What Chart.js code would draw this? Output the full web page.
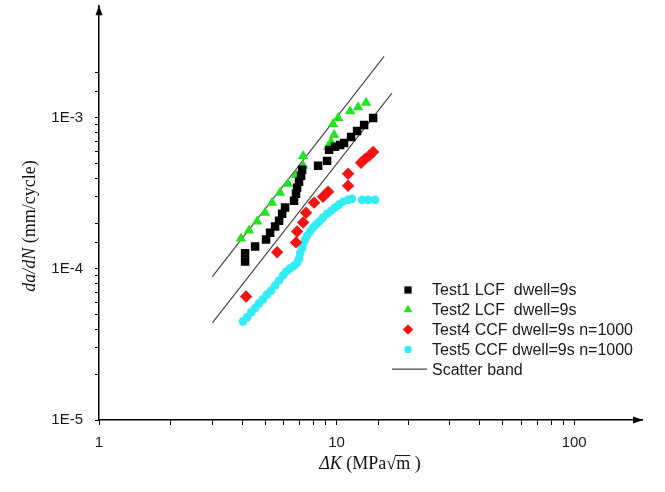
<!DOCTYPE html>
<html>
<head>
<meta charset="utf-8">
<script src="https://cdn.jsdelivr.net/npm/chart.js@4.4.0/dist/chart.umd.min.js"></script>
<style>
  html, body { margin: 0; padding: 0; background: #fff; }
  #wrap { width: 665px; height: 492px; }
</style>
</head>
<body>
<div id="wrap"><canvas id="crack-chart" width="665" height="492"></canvas></div>
<script>
// delta K (MPa sqrt m) and da/dN (mm/cycle)
const test1X = [4.12, 4.12, 4.54, 5.05, 5.25, 5.51, 5.73, 5.90, 6.07, 6.62, 6.75, 6.82, 6.95, 7.09, 7.16, 8.36, 9.12, 9.30, 9.85, 10.35, 10.75, 11.51, 12.20, 13.06, 14.25];
const test1Y = [1.12e-4, 1.27e-4, 1.41e-4, 1.57e-4, 1.74e-4, 1.91e-4, 2.09e-4, 2.32e-4, 2.55e-4, 2.83e-4, 3.15e-4, 3.45e-4, 3.78e-4, 4.14e-4, 4.54e-4, 4.82e-4, 5.20e-4, 6.15e-4, 6.44e-4, 6.63e-4, 6.84e-4, 7.49e-4, 8.21e-4, 8.99e-4, 1.0e-3];

const test2X = [3.96, 4.28, 4.63, 5.00, 5.35, 5.78, 6.25, 6.75, 7.23, 7.23, 9.21, 9.48, 9.76, 9.67, 10.15, 11.40, 12.32, 13.31];
const test2Y = [1.59e-4, 1.80e-4, 2.06e-4, 2.36e-4, 2.75e-4, 3.20e-4, 3.67e-4, 4.20e-4, 4.82e-4, 5.61e-4, 6.44e-4, 6.94e-4, 7.72e-4, 9.13e-4, 1.0e-3, 1.11e-3, 1.18e-3, 1.26e-3];

const test4X = [4.16, 5.62, 6.75, 6.82, 7.23, 7.44, 8.04, 8.77, 9.21, 11.18, 11.18, 12.68, 13.18, 13.70, 14.25];
const test4Y = [6.58e-5, 1.29e-4, 1.50e-4, 1.77e-4, 2.03e-4, 2.36e-4, 2.75e-4, 3.01e-4, 3.25e-4, 3.56e-4, 4.27e-4, 5.05e-4, 5.36e-4, 5.61e-4, 5.96e-4];

const test5X = [4.04, 4.20, 4.37, 4.54, 4.72, 4.90, 5.10, 5.30, 5.51, 5.73, 5.95, 6.13, 6.37, 6.62, 6.82, 6.95, 7.02, 7.16, 7.23, 7.37, 7.51, 7.73, 7.96, 8.20, 8.44, 8.77, 9.12, 9.48, 9.85, 10.24, 10.65, 11.18, 11.62, 12.81, 13.57, 14.53];
const test5Y = [4.50e-5, 4.79e-5, 5.16e-5, 5.49e-5, 5.92e-5, 6.29e-5, 6.79e-5, 7.21e-5, 7.78e-5, 8.39e-5, 9.06e-5, 9.63e-5, 1.01e-4, 1.05e-4, 1.10e-4, 1.17e-4, 1.27e-4, 1.37e-4, 1.47e-4, 1.57e-4, 1.66e-4, 1.77e-4, 1.88e-4, 1.97e-4, 2.06e-4, 2.19e-4, 2.32e-4, 2.43e-4, 2.55e-4, 2.67e-4, 2.79e-4, 2.87e-4, 2.92e-4, 2.87e-4, 2.87e-4, 2.87e-4];

// scatter band end points
const bandUpperX = [3.0, 15.85];
const bandUpperY = [8.9e-5, 2.56e-3];
const bandLowerX = [3.0, 17.1];
const bandLowerY = [4.4e-5, 1.46e-3];

const seriesLabels = ['Test1 LCF  dwell=9s', 'Test2 LCF  dwell=9s', 'Test4 CCF dwell=9s n=1000', 'Test5 CCF dwell=9s n=1000', 'Scatter band'];

const xMin = 1, xMax = 193, xLastTick = 100;
const yMin = 1e-5, yMax = 5.5e-3, yLastTick = 2e-3;

function toPoints(xs, ys) {
  return xs.map((x, i) => ({ x: x, y: ys[i] }));
}

function isDecade(v) {
  const l = Math.log10(v);
  return Math.abs(l - Math.round(l)) < 1e-6;
}

function markerSet(label, xs, ys, style, color, radius) {
  return {
    label: label,
    data: toPoints(xs, ys),
    pointStyle: style,
    pointRadius: radius,
    pointBackgroundColor: color,
    pointBorderColor: color,
    pointBorderWidth: 0,
    showLine: false,
  };
}

function bandSet(label, xs, ys) {
  return {
    label: label,
    data: toPoints(xs, ys),
    showLine: true,
    borderColor: '#4a4a4a',
    borderWidth: 1.2,
    pointRadius: 0,
    legendLine: true,
  };
}

// arrow heads at the ends of both axes
const axisArrows = {
  id: 'axisArrows',
  afterDraw(chart) {
    const { ctx, chartArea: a } = chart;
    ctx.save();
    ctx.fillStyle = '#000';
    ctx.beginPath();
    ctx.moveTo(a.left, a.top - 1);
    ctx.lineTo(a.left - 3.5, a.top + 9);
    ctx.lineTo(a.left + 3.5, a.top + 9);
    ctx.closePath();
    ctx.fill();
    ctx.beginPath();
    ctx.moveTo(a.right + 1, a.bottom);
    ctx.lineTo(a.right - 9, a.bottom - 3.5);
    ctx.lineTo(a.right - 9, a.bottom + 3.5);
    ctx.closePath();
    ctx.fill();
    ctx.restore();
  },
};

// titles with italic symbols
function drawParts(ctx, parts, size) {
  const fontOf = (p) => (p.italic ? 'italic ' : '') + size + 'px "Liberation Serif", "Times New Roman", serif';
  let total = 0;
  parts.forEach((p) => {
    ctx.font = fontOf(p);
    total += ctx.measureText(p.text).width;
  });
  let x = -total / 2;
  parts.forEach((p) => {
    ctx.font = fontOf(p);
    const w = ctx.measureText(p.text).width;
    ctx.fillText(p.text, x, 0);
    if (p.overline) {
      ctx.beginPath();
      ctx.moveTo(x - 1, -size * 0.47);
      ctx.lineTo(x + w, -size * 0.47);
      ctx.lineWidth = 1;
      ctx.strokeStyle = '#111';
      ctx.stroke();
    }
    x += w;
  });
}

const axisTitles = {
  id: 'axisTitles',
  afterDraw(chart, args, opts) {
    const ctx = chart.ctx;
    ctx.save();
    ctx.fillStyle = '#111';
    ctx.textAlign = 'left';
    ctx.textBaseline = 'middle';
    ctx.save();
    ctx.translate(opts.xCenter, opts.xMiddle);
    drawParts(ctx, [
      { text: 'ΔK', italic: true },
      { text: ' (MPa' },
      { text: '√' },
      { text: 'm', overline: true },
      { text: ' )' },
    ], opts.size);
    ctx.restore();
    ctx.save();
    ctx.translate(opts.yCenter, opts.yMiddle);
    ctx.rotate(-Math.PI / 2);
    drawParts(ctx, [
      { text: 'da/dN', italic: true },
      { text: ' (mm/cycle)' },
    ], opts.size);
    ctx.restore();
    ctx.restore();
  },
};

// legend placed inside the plot, like the figure
const insideLegend = {
  id: 'insideLegend',
  afterDraw(chart, args, opts) {
    const ctx = chart.ctx;
    ctx.save();
    ctx.font = opts.fontSize + 'px "Liberation Sans", Arial, sans-serif';
    ctx.textBaseline = 'middle';
    ctx.textAlign = 'left';
    let row = 0;
    chart.data.datasets.forEach((ds) => {
      if (!ds.label) {
        return;
      }
      const y = opts.top + row * opts.rowGap;
      if (ds.legendLine) {
        ctx.beginPath();
        ctx.moveTo(opts.lineStart, y);
        ctx.lineTo(opts.lineEnd, y);
        ctx.strokeStyle = ds.borderColor;
        ctx.lineWidth = ds.borderWidth;
        ctx.stroke();
      } else {
        ctx.fillStyle = ds.pointBackgroundColor;
        ctx.strokeStyle = ds.pointBorderColor;
        Chart.helpers.drawPoint(ctx, {
          pointStyle: ds.pointStyle,
          radius: ds.pointRadius * 0.85,
          rotation: 0,
          borderWidth: 0,
        }, opts.markerX, y);
      }
      ctx.fillStyle = '#1a1a1a';
      ctx.fillText(ds.label, opts.textX, y + 1);
      row += 1;
    });
    ctx.restore();
  },
};

const tickFont = { family: '"Liberation Sans", Arial, sans-serif', size: 15 };

const config = {
  type: 'scatter',
  data: {
    datasets: [
      markerSet(seriesLabels[0], test1X, test1Y, 'rect', '#000000', 6),
      markerSet(seriesLabels[1], test2X, test2Y, 'triangle', '#1fe41f', 6),
      markerSet(seriesLabels[2], test4X, test4Y, 'rectRot', '#f01414', 6.2),
      markerSet(seriesLabels[3], test5X, test5Y, 'circle', '#33ecf4', 4.3),
      bandSet(seriesLabels[4], bandUpperX, bandUpperY),
      bandSet('', bandLowerX, bandLowerY),
    ],
  },
  options: {
    responsive: false,
    animation: false,
    events: [],
    layout: { padding: { left: 0, right: 23, top: 5, bottom: 0 } },
    plugins: {
      legend: { display: false },
      tooltip: { enabled: false },
      axisTitles: { size: 18, xCenter: 370, xMiddle: 464, yCenter: 30, yMiddle: 226 },
      insideLegend: { fontSize: 16, top: 290, rowGap: 19.8, markerX: 408, lineStart: 392, lineEnd: 427, textX: 432 },
    },
    scales: {
      x: {
        type: 'logarithmic',
        min: xMin,
        max: xMax,
        afterFit(scale) {
          scale.height = 72;
          scale.paddingLeft = 0;
          scale.paddingRight = 0;
        },
        afterBuildTicks(scale) {
          scale.ticks = scale.ticks.filter((t) => t.value <= xLastTick + 1e-9);
        },
        ticks: {
          autoSkip: false,
          maxRotation: 0,
          padding: 9,
          color: '#1a1a1a',
          font: tickFont,
          callback(value) {
            return isDecade(value) ? String(Math.round(value)) : '';
          },
        },
        grid: { drawOnChartArea: false, drawTicks: true, tickLength: 5, color: '#000', lineWidth: 1 },
        border: { display: true, color: '#000', width: 1.5 },
      },
      y: {
        type: 'logarithmic',
        min: yMin,
        max: yMax,
        afterFit(scale) {
          scale.width = 99;
          scale.paddingTop = 0;
          scale.paddingBottom = 0;
        },
        afterBuildTicks(scale) {
          scale.ticks = scale.ticks.filter((t) => t.value <= yLastTick * 1.0001);
        },
        ticks: {
          autoSkip: false,
          padding: 12,
          color: '#1a1a1a',
          font: tickFont,
          callback(value) {
            return isDecade(value) ? '1E' + Math.round(Math.log10(value)) : '';
          },
        },
        grid: { drawOnChartArea: false, drawTicks: true, tickLength: 4, color: '#000', lineWidth: 1 },
        border: { display: true, color: '#000', width: 1.5 },
      },
    },
  },
  plugins: [axisArrows, axisTitles, insideLegend],
};

const ctx = document.getElementById('crack-chart').getContext('2d');
new Chart(ctx, config);
</script>
</body>
</html>
